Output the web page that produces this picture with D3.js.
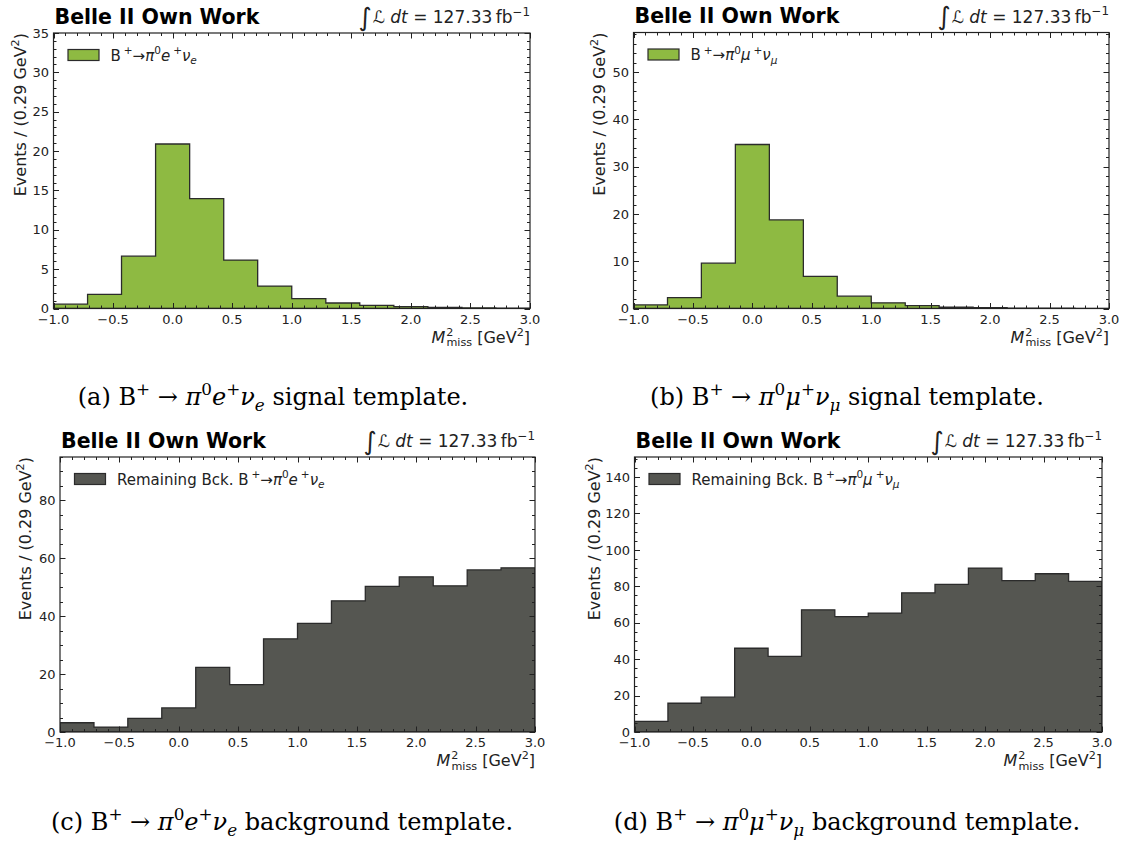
<!DOCTYPE html>
<html>
<head>
<meta charset="utf-8">
<script src="https://cdn.jsdelivr.net/npm/d3@7"></script>
<style>
  body { margin: 0; background: #fff; }
  svg { display: block; }
</style>
</head>
<body>
<svg id="fig" width="1126" height="844"></svg>
<script>
// Bin edges of the missing-mass-squared histograms in GeV^2 (14 bins of ~0.29 GeV^2)
const binEdges = [-1.0, -0.714, -0.429, -0.143, 0.143, 0.429, 0.714, 1.0, 1.286, 1.571, 1.857, 2.143, 2.429, 2.714, 3.0];
const xTicks = [-1.0, -0.5, 0.0, 0.5, 1.0, 1.5, 2.0, 2.5, 3.0];

// Events per bin
const signalElectron     = [0.55, 1.8, 6.65, 20.9, 13.95, 6.15, 2.85, 1.25, 0.7, 0.4, 0.25, 0.15, 0.08, 0.04];
const signalMuon         = [0.75, 2.3, 9.6, 34.7, 18.75, 6.8, 2.6, 1.2, 0.6, 0.3, 0.2, 0.1, 0.07, 0.03];
const backgroundElectron = [3.2, 1.7, 4.7, 8.3, 22.3, 16.4, 32.2, 37.5, 45.3, 50.3, 53.6, 50.5, 56.0, 56.7];
const backgroundMuon     = [5.8, 15.8, 19.1, 46.0, 41.5, 67.1, 63.3, 65.3, 76.4, 81.1, 90.0, 83.1, 86.9, 82.7];

// Vertical ranges and major ticks
const yMaxes = [35, 58.4, 95, 151];
const yTicksSignalElectron     = [0, 5, 10, 15, 20, 25, 30, 35];
const yTicksSignalMuon         = [0, 10, 20, 30, 40, 50];
const yTicksBackgroundElectron = [0, 20, 40, 60, 80];
const yTicksBackgroundMuon     = [0, 20, 40, 60, 80, 100, 120, 140];

// Text pieces: [text, styles, dx]
const expLabel  = "Belle II Own Work";
const lumiLabel = [["∫", "big"], ["ℒ", "i", 1], [" dt", "i"], [" = 127.33\u2009fb"], ["−1", "sup"]];
const yLabel    = [["Events / (0.29 GeV"], ["2", "sup"], [")"]];
const xLabel    = [["M", "i"], ["2", "sup", 1], ["miss", "sub", -7], [" [GeV"], ["2", "sup"], ["]"]];
const legendSignalElectron = [["B"], ["+", "sup", 3], ["→"], ["π", "i"], ["0", "sup"], ["e", "i"], ["+", "sup", 3], ["ν", "i"], ["e", "i sub"]];
const legendSignalMuon     = [["B"], ["+", "sup", 3], ["→"], ["π", "i"], ["0", "sup"], ["μ", "i"], ["+", "sup", 3], ["ν", "i"], ["μ", "i sub"]];
const legendBkgElectron    = [["Remaining Bck. B"], ["+", "sup", 3], ["→"], ["π", "i"], ["0", "sup"], ["e", "i"], ["+", "sup", 3], ["ν", "i"], ["e", "i sub"]];
const legendBkgMuon        = [["Remaining Bck. B"], ["+", "sup", 3], ["→"], ["π", "i"], ["0", "sup"], ["μ", "i"], ["+", "sup", 3], ["ν", "i"], ["μ", "i sub"]];
const captionA = [["(a) B"], ["+", "sup"], [" → "], ["π", "i"], ["0", "sup"], ["e", "i"], ["+", "sup"], ["ν", "i"], ["e", "i sub"], [" signal template."]];
const captionB = [["(b) B"], ["+", "sup"], [" → "], ["π", "i"], ["0", "sup"], ["μ", "i"], ["+", "sup"], ["ν", "i"], ["μ", "i sub"], [" signal template."]];
const captionC = [["(c) B"], ["+", "sup"], [" → "], ["π", "i"], ["0", "sup"], ["e", "i"], ["+", "sup"], ["ν", "i"], ["e", "i sub"], [" background template."]];
const captionD = [["(d) B"], ["+", "sup"], [" → "], ["π", "i"], ["0", "sup"], ["μ", "i"], ["+", "sup"], ["ν", "i"], ["μ", "i sub"], [" background template."]];

const GREEN = "#8EBA42";
const DARK = "#555651";
const INK = "#222";
const SANS = "DejaVu Sans, sans-serif";
const SERIF = "DejaVu Serif, Liberation Serif, serif";

// Panel layout: axes box, caption centre
const panels = [
  { values: signalElectron, yMax: yMaxes[0], yTicks: yTicksSignalElectron, fill: GREEN,
    legend: legendSignalElectron, caption: captionA,
    box: { x0: 53.5, x1: 530, y0: 33, y1: 308.5 }, yLabelX: 25.5, capX: 273, capY: 405 },
  { values: signalMuon, yMax: yMaxes[1], yTicks: yTicksSignalMuon, fill: GREEN,
    legend: legendSignalMuon, caption: captionB,
    box: { x0: 633.5, x1: 1109, y0: 32.5, y1: 308.5 }, yLabelX: 604.5, capX: 847, capY: 405 },
  { values: backgroundElectron, yMax: yMaxes[2], yTicks: yTicksBackgroundElectron, fill: DARK,
    legend: legendBkgElectron, caption: captionC,
    box: { x0: 60, x1: 535, y0: 457, y1: 732 }, yLabelX: 30.5, capX: 282, capY: 830 },
  { values: backgroundMuon, yMax: yMaxes[3], yTicks: yTicksBackgroundMuon, fill: DARK,
    legend: legendBkgMuon, caption: captionD,
    box: { x0: 634.5, x1: 1102, y0: 457, y1: 732 }, yLabelX: 600, capX: 847, capY: 830 }
];

// Writes mathtext-like pieces (italic, super/subscripts) into a <text> element
function rich(sel, parts, fs) {
  let shift = 0;
  parts.forEach(([t, st = "", dx = 0]) => {
    const flags = st.split(" ");
    const ts = sel.append("tspan").text(t);
    let target = 0, size = fs;
    if (flags.includes("sup")) { target = -0.42 * fs; size = 0.7 * fs; }
    if (flags.includes("sub")) { target = 0.24 * fs; size = 0.7 * fs; }
    if (flags.includes("big")) { target = 0.16 * fs; size = 1.5 * fs; }
    if (flags.includes("i")) ts.attr("font-style", "italic");
    ts.attr("font-size", size).attr("dy", target - shift);
    if (dx) ts.attr("dx", dx);
    shift = target;
  });
}

// Minor tick spacing like an auto-minor locator: 5 divisions for 1/5 mantissa, else 4
function minorStep(step) {
  const m = step / Math.pow(10, Math.floor(Math.log10(step)));
  return (Math.abs(m - 1) < 1e-6 || Math.abs(m - 5) < 1e-6) ? step / 5 : step / 4;
}

const svg = d3.select("#fig");
const fmtX = v => d3.format(".1f")(v).replace("-", "−");

panels.forEach((p, idx) => {
  const { x0, x1, y0, y1 } = p.box;
  const x = d3.scaleLinear().domain([binEdges[0], binEdges[binEdges.length - 1]]).range([x0, x1]);
  const y = d3.scaleLinear().domain([0, p.yMax]).range([y1, y0]);
  const g = svg.append("g");

  const clipId = "clip" + idx;
  g.append("clipPath").attr("id", clipId)
    .append("rect").attr("x", x0).attr("y", y0).attr("width", x1 - x0).attr("height", y1 - y0);

  // Step-filled histogram outline
  const pts = [[x(binEdges[0]), y(0)]];
  p.values.forEach((v, i) => {
    pts.push([x(binEdges[i]), y(v)]);
    pts.push([x(binEdges[i + 1]), y(v)]);
  });
  pts.push([x(binEdges[binEdges.length - 1]), y(0)]);
  g.append("path")
    .attr("clip-path", `url(#${clipId})`)
    .attr("d", d3.line()(pts) + "Z")
    .attr("fill", p.fill)
    .attr("stroke", "#2b2b2b")
    .attr("stroke-width", 1.3)
    .attr("stroke-linejoin", "miter");

  // Ticks on all four sides, pointing inwards
  const xMinor = d3.range(-1.0, 3.0001, 0.1).filter(v => !xTicks.some(t => Math.abs(t - v) < 1e-6));
  const yStep = p.yTicks[1] - p.yTicks[0];
  const ms = minorStep(yStep);
  const yMinor = d3.range(0, p.yMax + 1e-9, ms).filter(v => Math.abs(v / yStep - Math.round(v / yStep)) > 1e-6);
  const tk = g.append("g").attr("stroke", INK).attr("stroke-width", 1);
  [[xTicks, 5.5], [xMinor, 3]].forEach(([vals, len]) => {
    vals.forEach(v => {
      const xx = Math.round(x(v)) + 0.5;
      tk.append("line").attr("x1", xx).attr("x2", xx).attr("y1", y1).attr("y2", y1 - len);
      tk.append("line").attr("x1", xx).attr("x2", xx).attr("y1", y0).attr("y2", y0 + len);
    });
  });
  [[p.yTicks, 5.5], [yMinor, 3]].forEach(([vals, len]) => {
    vals.forEach(v => {
      const yy = Math.round(y(v)) + 0.5;
      tk.append("line").attr("y1", yy).attr("y2", yy).attr("x1", x0).attr("x2", x0 + len);
      tk.append("line").attr("y1", yy).attr("y2", yy).attr("x1", x1).attr("x2", x1 - len);
    });
  });

  // Axes frame
  g.append("rect").attr("x", x0).attr("y", y0).attr("width", x1 - x0).attr("height", y1 - y0)
    .attr("fill", "none").attr("stroke", INK).attr("stroke-width", 1.2);

  // Tick labels
  const tl = g.append("g").attr("font-family", SANS).attr("font-size", 13).attr("fill", INK);
  xTicks.forEach(v => {
    tl.append("text").attr("x", x(v)).attr("y", y1 + 15).attr("text-anchor", "middle").text(fmtX(v));
  });
  p.yTicks.forEach(v => {
    tl.append("text").attr("x", x0 - 4.5).attr("y", y(v) + 4.7).attr("text-anchor", "end").text(v);
  });

  // Axis titles (top / right aligned)
  const yl = g.append("text").attr("font-family", SANS).attr("fill", INK)
    .attr("text-anchor", "end")
    .attr("transform", `translate(${p.yLabelX},${y0}) rotate(-90)`);
  rich(yl, yLabel, 16);
  const xl = g.append("text").attr("font-family", SANS).attr("fill", INK)
    .attr("text-anchor", "end").attr("x", x1).attr("y", y1 + 34);
  rich(xl, xLabel, 16);

  // Experiment label and luminosity
  g.append("text").attr("x", x0 + 1).attr("y", y0 - 9.5)
    .attr("font-family", SANS).attr("font-weight", "bold").attr("font-size", 20.5).attr("fill", "#000")
    .text(expLabel);
  const lum = g.append("text").attr("font-family", SANS).attr("fill", INK)
    .attr("text-anchor", "end").attr("x", x1).attr("y", y0 - 10);
  rich(lum, lumiLabel, 17);

  // Legend
  g.append("rect").attr("x", x0 + 14.5).attr("y", y0 + 16.5).attr("width", 31).attr("height", 11)
    .attr("fill", p.fill).attr("stroke", "#2b2b2b").attr("stroke-width", 1.2);
  const lg = g.append("text").attr("font-family", SANS).attr("fill", INK)
    .attr("x", x0 + 57).attr("y", y0 + 27.5);
  rich(lg, p.legend, 15);

  // Sub-figure caption
  const cap = svg.append("text").attr("font-family", SERIF).attr("fill", "#000")
    .attr("text-anchor", "middle").attr("x", p.capX).attr("y", p.capY);
  rich(cap, p.caption, 24);
});
</script>
</body>
</html>
